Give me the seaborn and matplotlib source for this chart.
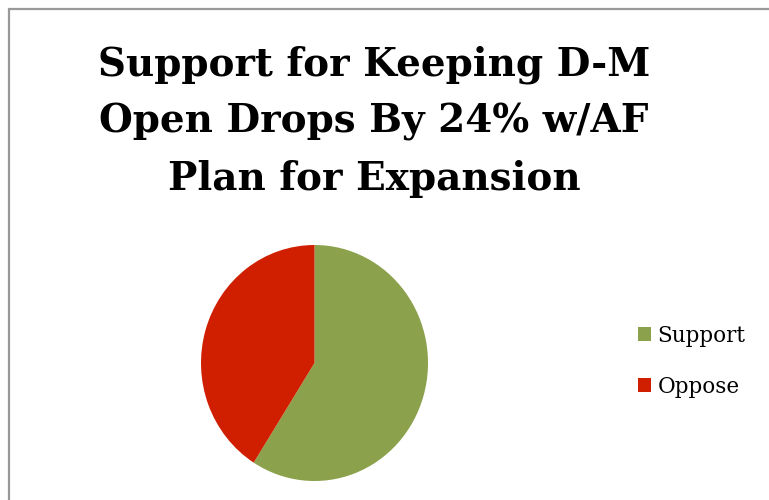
import matplotlib
matplotlib.use("Agg")
import matplotlib.pyplot as plt
from matplotlib.patches import Rectangle
import seaborn as sns

# Survey responses (percent)
categories = ["Support", "Oppose"]
shares = [59, 41]
colors = ["#8BA14C", "#CF1F00"]
title = "Support for Keeping D-M\nOpen Drops By 24% w/AF\nPlan for Expansion"

sns.set_theme(style="white")
plt.rcParams["font.family"] = ["DejaVu Serif"]
plt.rcParams["text.color"] = "black"

W, H = 769, 500
fig = plt.figure(figsize=(W / 100, H / 100), dpi=100)
fig.patch.set_facecolor("white")

# Chart-area frame (runs off the right and bottom edges)
fig.patches.append(Rectangle((8.5 / W, -0.1), 1.2, (H - 8.5) / H + 0.1,
                             transform=fig.transFigure, fill=False,
                             edgecolor="#999999", linewidth=1.6))

# Pie area: pixel box x 201..428, y 245..481
ax = fig.add_axes([201 / W, 1 - 481 / H, 227 / W, 236 / H])
wedges, _ = ax.pie(shares, colors=colors, startangle=90, counterclock=False,
                   radius=1.0, wedgeprops=dict(linewidth=0))
ax.set_aspect("auto")
ax.set_xlim(-1, 1)
ax.set_ylim(-1, 1)
ax.axis("off")

fig.text(374 / W, 1 - 45 / H, title, ha="center", va="top",
         multialignment="center", fontsize=28, fontweight="bold",
         linespacing=1.63, color="black")

leg = fig.legend(wedges, categories, loc="upper left",
                 bbox_to_anchor=(627 / W, 1 - 314 / H), frameon=False,
                 fontsize=15.5, handlelength=0.62, handleheight=0.62,
                 handletextpad=0.3, labelspacing=1.35, borderpad=0,
                 labelcolor="black")

fig.savefig("out.png", dpi=100, facecolor="white")
